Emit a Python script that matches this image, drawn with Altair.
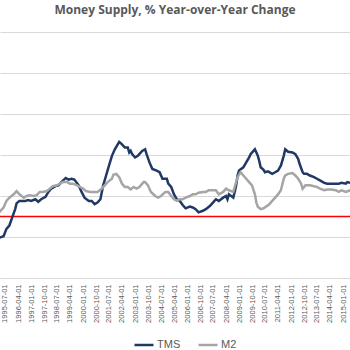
import altair as alt
import pandas as pd

# ---- data (% year-over-year) ----
TMS_DATES = [
    "1995-03-01", "1995-06-01", "1995-08-01", "1995-10-01", "1995-12-01", "1996-02-01",
    "1996-03-01", "1996-05-01", "1996-09-01", "1996-11-01", "1997-01-01", "1997-04-01",
    "1997-06-01", "1997-08-01", "1997-11-01", "1998-01-01", "1998-03-01", "1998-06-01",
    "1998-08-01", "1998-10-01", "1999-01-01", "1999-03-01", "1999-05-01", "1999-07-01",
    "1999-10-01", "1999-12-01", "2000-02-01", "2000-05-01", "2000-07-01", "2000-09-01",
    "2000-11-01", "2001-01-01", "2001-03-01", "2001-05-01", "2001-07-01", "2001-09-01",
    "2001-11-01", "2002-01-01", "2002-02-01", "2002-04-01", "2002-06-01", "2002-08-01",
    "2002-09-01", "2002-10-01", "2002-11-01", "2003-01-01", "2003-03-01", "2003-04-01",
    "2003-06-01", "2003-08-01", "2003-09-01", "2003-11-01", "2004-01-01", "2004-04-01",
    "2004-06-01", "2004-08-01", "2004-11-01", "2004-12-01", "2005-02-01", "2005-04-01",
    "2005-06-01", "2005-08-01", "2005-10-01", "2005-12-01", "2006-03-01", "2006-05-01",
    "2006-07-01", "2006-09-01", "2006-12-01", "2007-02-01", "2007-05-01", "2007-07-01",
    "2007-09-01", "2007-11-01", "2008-02-01", "2008-04-01", "2008-05-01", "2008-06-01",
    "2008-09-01", "2008-10-01", "2008-11-01", "2008-12-01", "2009-01-01", "2009-04-01",
    "2009-06-01", "2009-08-01", "2009-09-01", "2009-11-01", "2009-12-01", "2010-02-01",
    "2010-03-01", "2010-04-01", "2010-06-01", "2010-07-01", "2010-09-01", "2010-12-01",
    "2011-02-01", "2011-04-01", "2011-06-01", "2011-08-01", "2011-09-01", "2011-11-01",
    "2012-02-01", "2012-04-01", "2012-06-01", "2012-07-01", "2012-09-01", "2012-10-01",
    "2012-12-01", "2013-02-01", "2013-05-01", "2013-07-01", "2013-09-01", "2013-12-01",
    "2014-02-01", "2014-05-01", "2014-08-01", "2014-10-01", "2014-12-01", "2015-03-01",
    "2015-04-01", "2015-06-01",
]
TMS_VALUES = [
    -0.1, 0.1, 1.0, 1.4, 2.4, 3.4,
    4.1, 4.4, 4.4, 4.5, 4.4, 4.6,
    4.3, 4.6, 4.9, 5.5, 5.9, 6.2,
    6.3, 6.7, 7.2, 7.0, 7.1, 7.0,
    6.3, 5.5, 4.8, 4.4, 4.4, 4.0,
    4.2, 4.6, 6.3, 7.5, 8.7, 9.9,
    10.7, 11.3, 11.6, 11.3, 10.9, 10.9,
    10.3, 10.5, 10.1, 9.7, 9.9, 10.1,
    10.5, 10.7, 10.1, 9.1, 8.3, 8.1,
    7.9, 7.1, 7.1, 6.5, 6.1, 5.2,
    4.6, 4.4, 3.9, 3.5, 3.7, 3.6,
    3.4, 3.0, 3.2, 3.4, 3.8, 4.2,
    4.6, 4.4, 4.8, 5.0, 4.6, 5.2,
    4.8, 5.5, 6.3, 7.5, 8.1, 8.5,
    9.1, 9.7, 10.1, 10.5, 10.7, 9.9,
    9.3, 8.5, 8.2, 7.9, 8.0, 7.7,
    7.9, 8.1, 8.7, 9.9, 10.7, 10.4,
    10.3, 10.1, 9.5, 8.9, 7.9, 7.7,
    7.7, 7.5, 7.3, 7.1, 6.9, 6.6,
    6.5, 6.5, 6.5, 6.5, 6.6, 6.5,
    6.7, 6.6,
]

M2_DATES = [
    "1995-03-01", "1995-06-01", "1995-08-01", "1995-10-01", "1996-01-01", "1996-03-01",
    "1996-05-01", "1996-08-01", "1996-10-01", "1996-12-01", "1997-03-01", "1997-05-01",
    "1997-07-01", "1997-09-01", "1997-12-01", "1998-02-01", "1998-04-01", "1998-07-01",
    "1998-09-01", "1998-11-01", "1999-02-01", "1999-04-01", "1999-06-01", "1999-09-01",
    "1999-11-01", "2000-01-01", "2000-03-01", "2000-06-01", "2000-09-01", "2000-11-01",
    "2001-02-01", "2001-04-01", "2001-06-01", "2001-09-01", "2001-10-01", "2001-12-01",
    "2002-02-01", "2002-04-01", "2002-06-01", "2002-08-01", "2002-10-01", "2002-12-01",
    "2003-02-01", "2003-04-01", "2003-07-01", "2003-08-01", "2003-10-01", "2003-12-01",
    "2004-03-01", "2004-05-01", "2004-07-01", "2004-10-01", "2004-12-01", "2005-02-01",
    "2005-04-01", "2005-06-01", "2005-08-01", "2005-10-01", "2005-12-01", "2006-03-01",
    "2006-05-01", "2006-07-01", "2006-09-01", "2006-12-01", "2007-02-01", "2007-04-01",
    "2007-07-01", "2007-09-01", "2007-11-01", "2008-02-01", "2008-04-01", "2008-06-01",
    "2008-09-01", "2008-10-01", "2008-12-01", "2009-02-01", "2009-04-01", "2009-06-01",
    "2009-08-01", "2009-10-01", "2009-12-01", "2010-01-01", "2010-02-01", "2010-04-01",
    "2010-06-01", "2010-10-01", "2010-12-01", "2011-02-01", "2011-04-01", "2011-06-01",
    "2011-08-01", "2011-09-01", "2011-11-01", "2012-02-01", "2012-04-01", "2012-06-01",
    "2012-08-01", "2012-09-01", "2012-11-01", "2013-02-01", "2013-05-01", "2013-07-01",
    "2013-09-01", "2013-12-01", "2014-02-01", "2014-05-01", "2014-08-01", "2014-10-01",
    "2014-12-01", "2015-03-01", "2015-06-01",
]
M2_VALUES = [
    3.0, 3.6, 4.4, 4.8, 5.2, 5.6,
    5.2, 4.8, 5.0, 5.1, 5.0, 5.1,
    5.5, 5.5, 5.6, 5.9, 6.2, 6.3,
    6.5, 6.7, 6.7, 6.5, 6.5, 6.3,
    6.1, 5.9, 5.6, 5.5, 5.5, 5.5,
    5.9, 6.3, 6.7, 7.1, 7.6, 7.7,
    7.3, 6.5, 6.1, 6.1, 5.8, 6.1,
    5.9, 6.1, 6.7, 6.7, 6.3, 5.5,
    5.0, 4.8, 5.0, 5.5, 5.5, 5.0,
    4.6, 4.4, 4.6, 4.6, 4.8, 5.0,
    5.2, 5.2, 5.4, 5.5, 5.5, 5.7,
    5.7, 5.7, 5.2, 5.5, 5.9, 5.7,
    5.5, 6.1, 7.3, 7.9, 7.5, 7.1,
    6.7, 6.3, 5.2, 4.2, 3.7, 3.4,
    3.5, 4.0, 4.4, 4.8, 5.2, 5.7,
    7.1, 7.5, 7.7, 7.8, 7.5, 7.1,
    6.5, 5.9, 6.3, 6.3, 6.2, 6.1,
    5.9, 5.7, 5.8, 5.8, 5.7, 5.5,
    5.7, 5.5, 5.7,
]

SERIES = ["TMS", "M2"]
SERIES_COLORS = ["#203864", "#a5a5a5"]
REF_LEVEL = 2.5
GRID_VALUES = [-5, 0, 5, 10, 15, 20, 25]
TICK_DATES = [
    (1995, 7), (1996, 4), (1997, 1), (1997, 10), (1998, 7), (1999, 4), (2000, 1),
    (2000, 10), (2001, 7), (2002, 4), (2003, 1), (2003, 10), (2004, 7), (2005, 4),
    (2006, 1), (2006, 10), (2007, 7), (2008, 4), (2009, 1), (2009, 10), (2010, 7),
    (2011, 4), (2012, 1), (2012, 10), (2013, 7), (2014, 4), (2015, 1),
]
TITLE = "Money Supply, % Year-over-Year Change"

df = pd.concat([
    pd.DataFrame({"date": TMS_DATES, "value": TMS_VALUES, "series": "TMS", "order": 2}),
    pd.DataFrame({"date": M2_DATES, "value": M2_VALUES, "series": "M2", "order": 1}),
])

GRAY = "#595959"
GRID = "#d9d9d9"

x_scale = alt.Scale(
    type="utc",
    domain=[alt.DateTime(year=1995, month=3, date=18, utc=True),
            alt.DateTime(year=2015, month=5, date=28, utc=True)],
    nice=False,
)
y_scale = alt.Scale(domain=[-5, 25], nice=False, zero=False)

x_enc = alt.X(
    "date:T",
    scale=x_scale,
    title=None,
    axis=alt.Axis(
        values=[alt.DateTime(year=y, month=m, date=1, utc=True) for y, m in TICK_DATES],
        labelExpr="utcFormat(datum.value, '%Y-%m-%d')",
        labelAngle=270,
        labelFont="Liberation Sans",
        labelFontSize=7.5,
        labelColor=GRAY,
        labelPadding=6,
        ticks=False,
        grid=False,
        domainColor=GRID,
        domainWidth=1,
        labelOverlap=False,
    ),
)
y_axis = alt.Axis(
    values=GRID_VALUES,
    labels=False,
    ticks=False,
    domain=False,
    grid=True,
    gridColor=GRID,
    gridWidth=1,
)

ref = alt.Chart(pd.DataFrame({"value": [REF_LEVEL]})).mark_rule(
    color="#ff0000", strokeWidth=1.5
).encode(y=alt.Y("value:Q", scale=y_scale, axis=y_axis, title=None))

lines = alt.Chart(df).mark_line(strokeWidth=2.5, clip=True).encode(
    x=x_enc,
    y=alt.Y("value:Q", scale=y_scale, axis=y_axis, title=None),
    color=alt.Color(
        "series:N",
        scale=alt.Scale(domain=SERIES, range=SERIES_COLORS),
        legend=alt.Legend(
            title=None,
            orient="none",
            direction="horizontal",
            legendX=133,
            legendY=302,
            symbolType="stroke",
            symbolSize=361,
            symbolStrokeWidth=2.5,
            labelFont="Liberation Sans",
            labelFontSize=11,
            labelColor=GRAY,
            labelOffset=2,
            columnPadding=12,
        ),
    ),
    order=alt.Order("order:Q"),
    detail="series:N",
)

chart = alt.layer(ref, lines).resolve_scale(y="shared").properties(
    width=350,
    height=246,
    background="white",
    title=alt.TitleParams(
        TITLE,
        font="Open Sans",
        fontSize=12,
        fontWeight="bold",
        color=GRAY,
        anchor="middle",
        baseline="alphabetic",
        offset=6,
    ),
    padding={"left": 0, "right": 0, "top": 32, "bottom": 72},
    autosize=alt.AutoSizeParams(type="none"),
).configure_view(strokeWidth=0, stroke="transparent")

chart.save("out.html", embed_options={"renderer": "svg", "actions": False})
